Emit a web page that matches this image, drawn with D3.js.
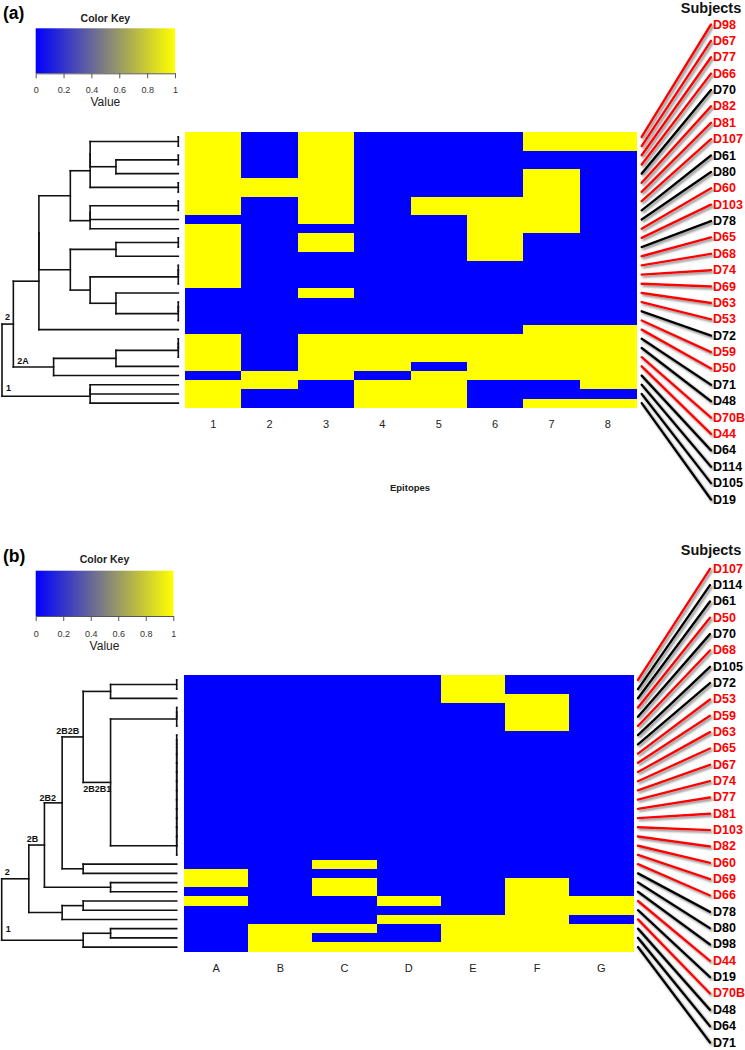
<!DOCTYPE html>
<html><head><meta charset="utf-8">
<script src="https://cdn.jsdelivr.net/npm/d3@7/dist/d3.min.js"></script>
<style>body{margin:0;background:#fff}svg{display:block}</style>
</head><body>
<svg id="chart" width="745" height="1050"></svg>
<script>
// ---------------- DATA ----------------
const keyTicks = [0, 0.2, 0.4, 0.6, 0.8, 1];

// Panel (a)
const epitopesA = ["1","2","3","4","5","6","7","8"];
const subjectsA = ["D98","D67","D77","D66","D70","D82","D81","D107","D61","D80","D60","D103","D78","D65","D68",
                   "D74","D69","D63","D53","D72","D59","D50","D71","D48","D70B","D44","D64","D114","D105","D19"];
const redA = [1,1,1,1,0,1,1,1,0,0,1,1,0,1,1,1,1,1,1,0,1,1,0,0,1,1,0,0,0,0];
const matrixA = [
  [1,0,1,0,0,0,1,1],[1,0,1,0,0,0,1,1],[1,0,1,0,0,0,0,0],[1,0,1,0,0,0,0,0],[1,0,1,0,0,0,1,0],
  [1,1,1,0,0,0,1,0],[1,1,1,0,0,0,1,0],[1,0,1,0,1,1,1,0],[1,0,1,0,1,1,1,0],[0,0,1,0,0,1,1,0],
  [1,0,0,0,0,1,1,0],[1,0,1,0,0,1,0,0],[1,0,1,0,0,1,0,0],[1,0,0,0,0,1,0,0],[1,0,0,0,0,0,0,0],
  [1,0,0,0,0,0,0,0],[1,0,0,0,0,0,0,0],[0,0,1,0,0,0,0,0],[0,0,0,0,0,0,0,0],[0,0,0,0,0,0,0,0],
  [0,0,0,0,0,0,0,0],[0,0,0,0,0,0,1,1],[1,0,1,1,1,1,1,1],[1,0,1,1,1,1,1,1],[1,0,1,1,1,1,1,1],
  [1,0,1,1,0,1,1,1],[0,1,1,0,1,1,1,1],[1,1,0,1,1,0,0,1],[1,0,0,1,1,0,0,0],[1,0,0,1,1,0,1,1]
];

// Panel (b)
const epitopesB = ["A","B","C","D","E","F","G"];
const subjectsB = ["D107","D114","D61","D50","D70","D68","D105","D72","D53","D59","D63","D65","D67","D74","D77",
                   "D81","D103","D82","D60","D69","D66","D78","D80","D98","D44","D19","D70B","D48","D64","D71"];
const redB = [1,0,0,1,0,1,0,0,1,1,1,1,1,1,1,1,1,1,1,1,1,0,0,0,1,0,1,0,0,0];
const matrixB = [
  [0,0,0,0,1,0,0],[0,0,0,0,1,0,0],[0,0,0,0,1,1,0],[0,0,0,0,0,1,0],[0,0,0,0,0,1,0],
  [0,0,0,0,0,1,0],[0,0,0,0,0,0,0],[0,0,0,0,0,0,0],[0,0,0,0,0,0,0],[0,0,0,0,0,0,0],
  [0,0,0,0,0,0,0],[0,0,0,0,0,0,0],[0,0,0,0,0,0,0],[0,0,0,0,0,0,0],[0,0,0,0,0,0,0],
  [0,0,0,0,0,0,0],[0,0,0,0,0,0,0],[0,0,0,0,0,0,0],[0,0,0,0,0,0,0],[0,0,0,0,0,0,0],
  [0,0,1,0,0,0,0],[1,0,0,0,0,0,0],[1,0,1,0,0,1,0],[0,0,1,0,0,1,0],[1,0,0,1,0,1,1],
  [0,0,0,0,0,1,1],[0,0,0,1,1,1,0],[0,1,1,0,1,1,1],[0,1,0,0,1,1,1],[0,1,1,1,1,1,1]
];

// Dendrograms: node = {h, name, c:[children]}, leaf = row index
function N(h, ...c) { return {h, c}; }
function L(name, node) { node.name = name; return node; }
function T(...rows) { // identical rows joined at height 0 (successive merges)
  let n = rows[0];
  for (let i = 1; i < rows.length; i++) n = N(0, n, rows[i]);
  return n;
}
const treeA = N(2.828,
  L("2", N(2.646,
    N(2.236,
      N(2.236,
        N(1.732,
          N(1.414, N(1.414, T(0,1), N(1, T(2,3), 4)), T(5,6)),
          N(1.414, N(1.414, T(7,8), 9), 10)),
        N(1.732,
          N(1, T(11,12), 13),
          N(1.414, T(14,15,16), N(1, 17, T(18,19,20))))),
      21),
    L("2A", N(2, N(1, T(22,23,24), 25), 26)))),
  L("1", N(1.414, N(1.414, 27, 28), 29))
);
const treeB = N(2.646,
  L("2", N(2.236,
    L("2B", N(2,
      L("2B2", N(1.732,
        L("2B2B", N(1.414,
          N(1, T(0,1), 2),
          L("2B2B1", N(1, T(3,4,5), T(6,7,8,9,10,11,12,13,14,15,16,17,18,19))))),
        N(1.414, 20, 21))),
      N(1, 22, 23))),
    N(1.732, N(1.414, 24, 25), 26))),
  L("1", N(1.414, N(1, 27, 28), 29))
);

// ---------------- LAYOUT ----------------
const svg = d3.select("#chart");
const FONT = "'Liberation Sans', Arial, sans-serif";
const color = d3.scaleLinear().domain([0, 1]).range(["#0000ff", "#ffff00"]).interpolate(d3.interpolateRgb);

const defs = svg.append("defs");
const grad = defs.append("linearGradient").attr("id", "keyGrad");
d3.range(0, 1.0001, 0.1).forEach(t => grad.append("stop").attr("offset", t).attr("stop-color", color(t)));
const flt = defs.append("filter").attr("id", "shadow").attr("x", "-20%").attr("y", "-20%").attr("width", "140%").attr("height", "140%");
flt.append("feDropShadow").attr("dx", 1.6).attr("dy", 1.8).attr("stdDeviation", 1)
   .attr("flood-color", "#666").attr("flood-opacity", 0.8);

const labelPos = {
  a: {"2": [3, -4], "2A": [4, -3], "1": [4, -5]},
  b: {"2": [3, -4], "2B": [-2, -3], "2B2": [-5, -2], "2B2B": [-6, -3], "2B2B1": [0, 10], "1": [4, -8]}
};

const panels = [
  { id: "a", tag: "(a)", tree: treeA, matrix: matrixA, cols: epitopesA, subjects: subjectsA, red: redA,
    top: 132.3, bottom: 407.7, left: 185, right: 636, leafX: 178.3, rootX: 2, maxH: 2.828,
    key: {x0: 35.7, x1: 175, y0: 28.3, y1: 73.3, tagY: 19, titleY: 21.5, tickY: 93, valueY: 106},
    colLabelY: 424, xlabel: "Epitopes", lineX0: 641.7, lineX1: 711, labX: 713, labY0: 24, labY1: 499,
    subjY: 13 },
  { id: "b", tag: "(b)", tree: treeB, matrix: matrixB, cols: epitopesB, subjects: subjectsB, red: redB,
    top: 675.3, bottom: 951.7, left: 184.1, right: 633.3, leafX: 176.7, rootX: 1.7, maxH: 2.646,
    key: {x0: 35.7, x1: 173.3, y0: 570.7, y1: 616, tagY: 562, titleY: 563, tickY: 636.5, valueY: 650},
    colLabelY: 968, xlabel: null, lineX0: 638, lineX1: 710, labX: 713, labY0: 568.3, labY1: 1042,
    subjY: 555 }
];

panels.forEach(p => {
  const g = svg.append("g");
  const nRows = p.matrix.length;
  const y = d3.scaleBand().domain(d3.range(nRows)).range([p.top, p.bottom]);
  const x = d3.scaleBand().domain(p.cols).range([p.left, p.right]);
  const rc = i => y(i) + y.bandwidth() / 2;
  const hx = d3.scaleLinear().domain([0, p.maxH]).range([p.leafX, p.rootX]);

  // panel tag
  g.append("text").attr("x", 3).attr("y", p.key.tagY).text(p.tag)
    .attr("font-family", FONT).attr("font-weight", "bold").attr("font-size", 17.5).attr("fill", "#000");

  // color key
  const k = p.key;
  g.append("text").attr("x", (k.x0 + k.x1) / 2).attr("y", k.titleY).attr("text-anchor", "middle").text("Color Key")
    .attr("font-family", FONT).attr("font-weight", "bold").attr("font-size", 10.5).attr("fill", "#222");
  g.append("rect").attr("x", k.x0).attr("y", k.y0).attr("width", k.x1 - k.x0).attr("height", k.y1 - k.y0)
    .attr("fill", "url(#keyGrad)");
  const kx = d3.scaleLinear().domain([0, 1]).range([k.x0, k.x1]);
  const ax = g.append("g").attr("transform", `translate(0,${k.y1})`)
    .call(d3.axisBottom(kx).tickValues(keyTicks).tickFormat(d => String(d)).tickSize(5).tickSizeOuter(0));
  ax.select(".domain").attr("stroke", "#555");
  ax.selectAll(".tick line").attr("stroke", "#555");
  ax.selectAll(".tick text").attr("y", 0).attr("dy", 0)
    .attr("transform", `translate(0,${k.tickY - k.y1})`)
    .attr("font-family", FONT).attr("font-size", 9).attr("fill", "#333");
  g.append("text").attr("x", (k.x0 + k.x1) / 2).attr("y", k.valueY).attr("text-anchor", "middle").text("Value")
    .attr("font-family", FONT).attr("font-size", 12).attr("fill", "#222");

  // heatmap
  const cells = [];
  p.matrix.forEach((row, i) => row.forEach((v, j) => cells.push({i, j, v})));
  g.append("g").attr("shape-rendering", "crispEdges").selectAll("rect").data(cells).join("rect")
    .attr("x", d => x(p.cols[d.j])).attr("y", d => y(d.i))
    .attr("width", x.bandwidth() + 0.5).attr("height", y.bandwidth() + 0.5)
    .attr("fill", d => color(d.v));

  // column labels
  const cx = g.append("g").attr("transform", `translate(0,${p.colLabelY})`)
    .call(d3.axisBottom(x).tickSize(0).tickPadding(0));
  cx.select(".domain").remove();
  cx.selectAll("text").attr("y", 0).attr("dy", "0.32em").attr("font-family", FONT).attr("font-size", 11).attr("fill", "#222");
  if (p.xlabel) {
    g.append("text").attr("x", 410).attr("y", 491).attr("text-anchor", "middle").text(p.xlabel)
      .attr("font-family", FONT).attr("font-weight", "bold").attr("font-size", 9.5).attr("fill", "#222");
  }

  // dendrogram
  const root = d3.hierarchy(p.tree, d => (typeof d === "number" ? null : d.c));
  root.eachAfter(n => {
    if (!n.children) { n.py = rc(n.data); n.px = hx(0); }
    else { n.py = d3.mean(n.children, c => c.py); n.px = hx(n.data.h); }
  });
  const segs = [];
  root.each(n => {
    if (!n.children) return;
    const ys = n.children.map(c => c.py);
    segs.push([n.px, d3.min(ys), n.px, d3.max(ys)]);
    n.children.forEach(c => segs.push([n.px, c.py, c.px, c.py]));
  });
  const dg = g.append("g").attr("stroke", "#111").attr("stroke-width", 1.6).attr("stroke-linecap", "square");
  dg.selectAll("line").data(segs).join("line")
    .attr("x1", d => d[0]).attr("y1", d => d[1]).attr("x2", d => d[2]).attr("y2", d => d[3]);
  root.each(n => {
    if (n.children && n.data.name && n.parent) {
      const off = labelPos[p.id][n.data.name] || [3, -3];
      g.append("text").attr("x", n.parent.px + off[0]).attr("y", n.py + off[1]).text(n.data.name)
        .attr("font-family", FONT).attr("font-weight", "bold").attr("font-size", 9).attr("fill", "#111");
    }
  });

  // subjects
  const ly = d3.scalePoint().domain(p.subjects).range([p.labY0, p.labY1]);
  const col = i => p.red[i] ? "#ff0000" : "#000000";
  g.append("text").attr("x", 711).attr("y", p.subjY).attr("text-anchor", "middle").text("Subjects")
    .attr("font-family", FONT).attr("font-weight", "bold").attr("font-size", 14.5).attr("fill", "#111");
  g.append("g").attr("filter", "url(#shadow)").selectAll("line").data(p.subjects).join("line")
    .attr("x1", p.lineX0).attr("y1", (d, i) => rc(i))
    .attr("x2", p.lineX1).attr("y2", d => ly(d) + 0.5)
    .attr("stroke", (d, i) => col(i)).attr("stroke-width", 2.4).attr("stroke-linecap", "round");
  g.append("g").selectAll("text").data(p.subjects).join("text")
    .attr("x", p.labX).attr("y", d => ly(d)).attr("dy", "0.36em").text(d => d)
    .attr("fill", (d, i) => col(i))
    .attr("font-family", FONT).attr("font-weight", "bold").attr("font-size", 12.5);
});
</script>
</body></html>
